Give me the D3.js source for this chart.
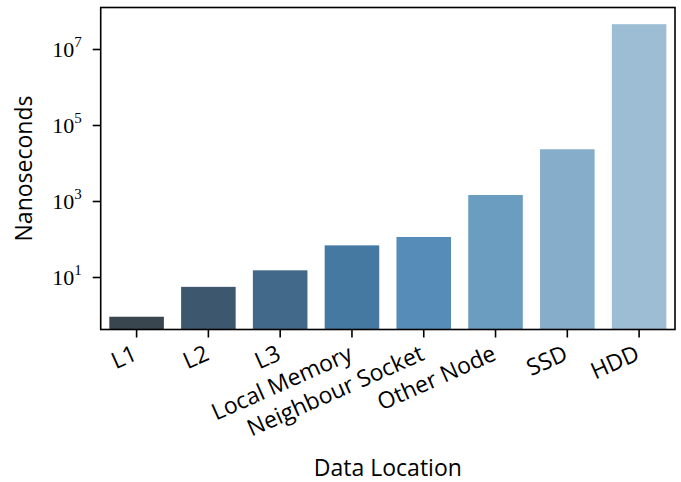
<!DOCTYPE html>
<html>
<head>
<meta charset="utf-8">
<script src="https://cdn.jsdelivr.net/npm/d3@7"></script>
<style>
  body { margin: 0; background: #fff; }
  svg { display: block; }
</style>
</head>
<body>
<div id="chart"></div>
<script>
/*
# latency per data location, log scale bar chart
*/
var locations = ["L1", "L2", "L3", "Local Memory", "Neighbour Socket", "Other Node", "SSD", "HDD"];
var nanoseconds = [0.9, 5.5, 15, 68, 113, 1440, 23000, 45000000];
var barColors = ["#39454f", "#3d586e", "#42698a", "#4679a2", "#568db8", "#6b9dc1", "#86adca", "#9dbdd5"];
var yTickExponents = [1, 3, 5, 7];

var width = 681, height = 482;
var margin = {top: 7.5, right: 6, bottom: 152.5, left: 100.7};
var sansFont = "'Open Sans', Lato, sans-serif";
var serifFont = "'Liberation Serif', 'DejaVu Serif', serif";

var svg = d3.select("#chart").append("svg")
  .attr("width", width)
  .attr("height", height);

var x = d3.scaleBand()
  .domain(locations)
  .range([margin.left, width - margin.right])
  .paddingInner(0.24)
  .paddingOuter(0.12);

var y = d3.scaleLog()
  .domain([0.4153, 1.236e8])
  .range([height - margin.bottom, margin.top]);

// bars
svg.append("g").selectAll("rect")
  .data(locations)
  .enter().append("rect")
  .attr("x", function(d) { return x(d); })
  .attr("width", x.bandwidth())
  .attr("y", function(d, i) { return y(nanoseconds[i]); })
  .attr("height", function(d, i) { return y.range()[0] - y(nanoseconds[i]); })
  .attr("fill", function(d, i) { return barColors[i]; });

// y axis: only odd powers of ten, labels as 10^n
var yAxis = d3.axisLeft(y)
  .tickValues(yTickExponents.map(function(e) { return Math.pow(10, e); }))
  .tickSize(8)
  .tickPadding(12)
  .tickFormat("");

var gy = svg.append("g")
  .attr("transform", "translate(" + margin.left + ",0)")
  .call(yAxis);
gy.select(".domain").remove();
gy.selectAll(".tick line").attr("stroke", "#000").attr("stroke-width", 1.6);

gy.selectAll(".tick").each(function(d) {
  var t = d3.select(this).append("text")
    .attr("x", -19)
    .attr("y", 7.5)
    .attr("fill", "#000")
    .attr("text-anchor", "end")
    .style("font-family", serifFont)
    .style("font-size", "22px");
  t.append("tspan").text("10");
  t.append("tspan")
    .attr("dy", -9.5)
    .style("font-size", "15px")
    .text(Math.round(Math.log10(d)));
});

// x axis
var xAxis = d3.axisBottom(x)
  .tickSize(8)
  .tickFormat("");

var gx = svg.append("g")
  .attr("transform", "translate(0," + (height - margin.bottom) + ")")
  .call(xAxis);
gx.select(".domain").remove();
gx.selectAll(".tick line").attr("stroke", "#000").attr("stroke-width", 1.6);

var rot = 24;
gx.selectAll(".tick").append("text")
  .attr("fill", "#000")
  .attr("text-anchor", "end")
  .attr("transform", "translate(-5,14) rotate(" + (-rot) + ")")
  .attr("dy", "0.75em")
  .style("font-family", sansFont)
  .style("font-size", "23px")
  .text(function(d) { return d; });

// frame
svg.append("rect")
  .attr("x", margin.left)
  .attr("y", margin.top)
  .attr("width", width - margin.right - margin.left)
  .attr("height", height - margin.bottom - margin.top)
  .attr("fill", "none")
  .attr("stroke", "#000")
  .attr("stroke-width", 1.6);

// axis titles
svg.append("text")
  .attr("x", (margin.left + width - margin.right) / 2)
  .attr("y", 476)
  .attr("text-anchor", "middle")
  .style("font-family", sansFont)
  .style("font-size", "23px")
  .text("Data Location");

svg.append("text")
  .attr("transform", "translate(32," + ((margin.top + height - margin.bottom) / 2) + ") rotate(-90)")
  .attr("text-anchor", "middle")
  .style("font-family", sansFont)
  .style("font-size", "23px")
  .text("Nanoseconds");
</script>
</body>
</html>
